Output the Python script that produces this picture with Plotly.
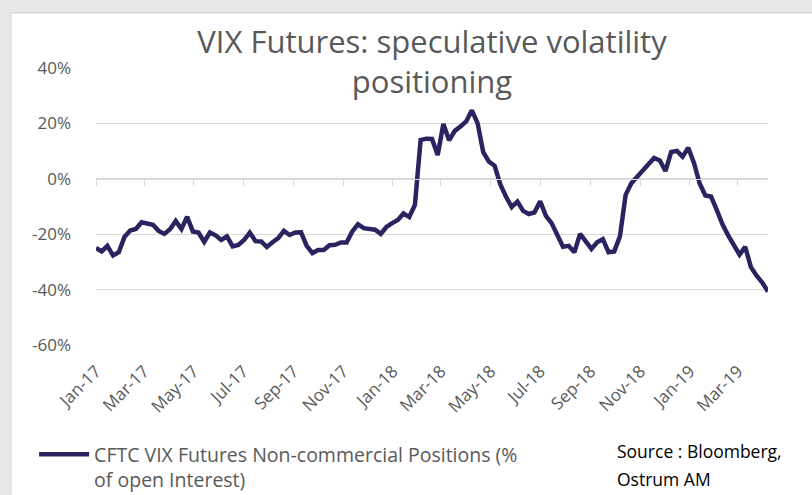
import pandas as pd
import plotly.graph_objects as go

# Weekly CFTC data, starting 2017-01-03 (Tuesdays)
start_date = "2017-01-03"
positions_pct = [
    -25.0, -26.2, -24.2, -27.7, -26.5, -21.0, -18.7, -18.1, -15.7, -16.3,
    -16.6, -18.8, -19.9, -18.2, -15.2, -18.1, -13.7, -19.0, -19.4, -22.8,
    -19.4, -20.4, -22.1, -20.8, -24.4, -23.9, -22.1, -19.4, -22.5, -22.6,
    -24.6, -22.9, -21.4, -18.8, -20.3, -19.4, -19.3, -24.2, -26.8, -25.7,
    -25.7, -24.0, -23.8, -23.0, -23.0, -19.0, -16.4, -17.8, -18.1, -18.4,
    -19.9, -17.4, -16.0, -14.9, -12.5, -13.8, -9.4, 14.0, 14.5, 14.4,
    8.6, 19.8, 13.9, 17.3, 18.9, 20.7, 24.7, 20.1, 9.6, 6.2,
    4.7, -2.0, -6.5, -10.2, -8.2, -11.6, -12.7, -12.1, -8.1, -13.4,
    -16.0, -20.6, -24.5, -24.2, -26.5, -19.9, -22.6, -25.3, -22.9, -21.8,
    -26.5, -26.2, -20.8, -5.8, -1.6, 0.7, 2.8, 4.8, 7.5, 6.6,
    2.8, 9.7, 10.1, 8.0, 11.2, 5.7, -1.7, -6.0, -6.4, -11.2,
    -16.4, -20.4, -23.8, -27.4, -24.6, -31.9, -35.0, -37.5, -40.7,
]
dates = pd.date_range(start=start_date, periods=len(positions_pct), freq="7D")
values = [v / 100 for v in positions_pct]

series_name = "CFTC VIX Futures Non-commercial Positions (%<br>of open Interest)"
title_text = "VIX Futures: speculative volatility<br>positioning"
source_lines = ["Source : Bloomberg,", "Ostrum AM"]
y_ticks = [-0.6, -0.4, -0.2, 0.0, 0.2, 0.4]
y_tick_labels = ["-60%", "-40%", "-20%", "0%", "20%", "40%"]

LINE = "#29245f"
GRID = "#d9d9d9"
TXT = "#595959"
BG = "#e7e7e7"
FONT = "Open Sans"

fig = go.Figure()
fig.add_trace(go.Scatter(
    x=dates, y=values, mode="lines", name=series_name,
    line=dict(color=LINE, width=4.5), hoverinfo="skip",
))
# same series on the overlay axis (carries the tick marks on the 0% line)
fig.add_trace(go.Scatter(
    x=dates, y=values, mode="lines", xaxis="x2", showlegend=False,
    line=dict(color="rgba(0,0,0,0)", width=0), hoverinfo="skip",
))

xr = [dates[0], dates[-1]]
fig.update_layout(
    width=812, height=495, autosize=False,
    margin=dict(l=96, r=44, t=68, b=150, autoexpand=False),
    paper_bgcolor=BG, plot_bgcolor="white",
    font=dict(family=FONT, color=TXT),
    title=dict(text=title_text, x=0.5, xref="paper", xanchor="center",
               y=0.893, yref="container", yanchor="top",
               font=dict(family=FONT, size=31, color=TXT)),
    xaxis=dict(type="date", range=xr, tick0=start_date, dtick="M2",
               tickformat="%b-%y", tickangle=-45, showgrid=False,
               zeroline=False, showline=False, ticks="",
               ticklabelstandoff=12,
               tickfont=dict(size=17, color=TXT)),
    xaxis2=dict(type="date", range=xr, tick0=start_date, dtick="M2",
                overlaying="x", anchor="free", position=0.6, side="bottom",
                showticklabels=False, ticks="outside", ticklen=6,
                tickcolor=GRID, tickwidth=1.3, showline=True, linecolor=GRID,
                linewidth=1.3, showgrid=False, zeroline=False),
    yaxis=dict(range=[-0.6, 0.4], tickvals=y_ticks, ticktext=y_tick_labels,
               showgrid=True, gridcolor=GRID, gridwidth=1.3, zeroline=False,
               ticks="", ticklabelstandoff=24,
               tickfont=dict(size=17, color=TXT)),
    legend=dict(orientation="h", x=-0.0921, xanchor="left", y=-0.325,
                yanchor="top", valign="top", itemwidth=50,
                font=dict(size=19.5, color=TXT), bgcolor="rgba(0,0,0,0)"),
    shapes=[dict(type="rect", xref="paper", yref="paper", layer="below",
                 x0=-0.1265, x1=1.08, y0=-0.56, y1=1.1986,
                 fillcolor="white", line=dict(color="#d2d2d2", width=1))],
    annotations=[
        dict(text=source_lines[0], xref="paper", yref="paper",
             x=(615 - 96) / 672, y=(345 - 451) / 277, xanchor="left",
             yanchor="middle", showarrow=False,
             font=dict(family=FONT, size=17.5, color="black")),
        dict(text=source_lines[1], xref="paper", yref="paper",
             x=(615 - 96) / 672, y=(345 - 479) / 277, xanchor="left",
             yanchor="middle", showarrow=False,
             font=dict(family=FONT, size=17.5, color="black")),
    ],
)

fig.write_html(
    "out.html",
    config={"displayModeBar": False},
    post_script="document.body.style.margin='0';"
                "document.body.style.background='" + BG + "';",
)
